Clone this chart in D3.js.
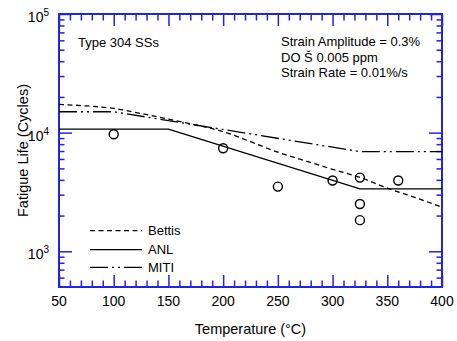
<!DOCTYPE html>
<html>
<head>
<meta charset="utf-8">
<script src="https://cdn.jsdelivr.net/npm/d3@7"></script>
<style>
body { margin: 0; background: #fff; }
text { font-family: Arial, "Liberation Sans", sans-serif; }
</style>
</head>
<body>
<svg id="chart" width="457" height="341"></svg>
<script>
// curves
var temps = [50, 75, 100, 125, 150, 175, 200, 225, 250, 275, 300, 325, 350, 375, 400];
var bettis = [17300, 16800, 16000, 14500, 13000, 11600, 10200, 8400, 6840, 5800, 4900, 4200, 3400, 2850, 2350];
var anlT = [50, 150, 325, 400];
var anl = [10700, 10700, 3360, 3360];
var mitiT = [50, 100, 325, 400];
var miti = [15000, 15000, 6920, 6920];
// test data (circles)
var ptT = [100, 200, 250, 300, 325, 325, 325, 360];
var ptN = [9700, 7380, 3510, 3950, 4180, 2506, 1830, 3950];

var xTicks = [50, 100, 150, 200, 250, 300, 350, 400];
var yTicks = [1000, 10000, 100000];
var yTickExp = ["3", "4", "5"];
var legendNames = ["Bettis", "ANL", "MITI"];

var blue = "#2323e6";
// plot box (note: "top" is taken by window.top)
var pLeft = 59, pRight = 442, pTop = 14, pBottom = 287;

var svg = d3.select("#chart");
var x = d3.scaleLinear().domain([50, 400]).range([pLeft, pRight]);
var y = d3.scaleLog().domain([500, 100000]).range([pBottom, pTop]);

var xMinor = d3.range(50, 401, 10).filter(function(d){ return d % 50 != 0; });
var yMinor = [];
[100, 1000, 10000].forEach(function(dec){
	for (var k = 2; k <= 9; k++) {
		var v = dec * k;
		if (v > 500 && v < 100000) yMinor.push(v);
	}
});

function styleAxis(g){
	g.select(".domain").remove();
	g.selectAll("line").attr("stroke", blue).attr("stroke-width", 1.5);
	g.selectAll("text").remove();
}

// ticks, all pointing inward
svg.append("g").attr("transform", "translate(0," + pBottom + ")")
	.call(d3.axisBottom(x).tickValues(xTicks).tickSize(-12)).call(styleAxis);
svg.append("g").attr("transform", "translate(0," + pBottom + ")")
	.call(d3.axisBottom(x).tickValues(xMinor).tickSize(-6.5)).call(styleAxis);
svg.append("g").attr("transform", "translate(0," + pTop + ")")
	.call(d3.axisTop(x).tickValues(xTicks).tickSize(-12)).call(styleAxis);
svg.append("g").attr("transform", "translate(0," + pTop + ")")
	.call(d3.axisTop(x).tickValues(xMinor).tickSize(-6.5)).call(styleAxis);
svg.append("g").attr("transform", "translate(" + pLeft + ",0)")
	.call(d3.axisLeft(y).tickValues(yTicks).tickSize(-13)).call(styleAxis);
svg.append("g").attr("transform", "translate(" + pLeft + ",0)")
	.call(d3.axisLeft(y).tickValues(yMinor).tickSize(-5.5)).call(styleAxis);
svg.append("g").attr("transform", "translate(" + pRight + ",0)")
	.call(d3.axisRight(y).tickValues(yTicks).tickSize(-13)).call(styleAxis);
svg.append("g").attr("transform", "translate(" + pRight + ",0)")
	.call(d3.axisRight(y).tickValues(yMinor).tickSize(-5.5)).call(styleAxis);

// frame
svg.append("rect")
	.attr("x", pLeft).attr("y", pTop)
	.attr("width", pRight - pLeft).attr("height", pBottom - pTop)
	.attr("fill", "none").attr("stroke", blue).attr("stroke-width", 2);

// tick labels
svg.selectAll(".xlab").data(xTicks).enter().append("text")
	.attr("x", function(d){ return x(d); })
	.attr("y", pBottom + 18.5)
	.attr("text-anchor", "middle")
	.attr("font-size", 14)
	.text(function(d){ return d; });

var ylab = svg.selectAll(".ylab").data(yTicks).enter().append("text")
	.attr("x", 49)
	.attr("y", function(d){ return y(d) + 8; })
	.attr("text-anchor", "end")
	.attr("font-size", 14);
ylab.append("tspan").text("10");
ylab.append("tspan").attr("font-size", 10).attr("dy", -6)
	.text(function(d, i){ return yTickExp[i]; });

// axis titles
svg.append("text")
	.attr("x", (pLeft + pRight) / 2).attr("y", 334)
	.attr("text-anchor", "middle").attr("font-size", 14.5)
	.text("Temperature (°C)");
svg.append("text")
	.attr("transform", "translate(28," + ((pTop + pBottom) / 2) + ") rotate(-90)")
	.attr("text-anchor", "middle").attr("font-size", 14.5)
	.text("Fatigue Life (Cycles)");

// curves
var line = d3.line()
	.x(function(d){ return x(d[0]); })
	.y(function(d){ return y(d[1]); });
var bettisLine = d3.line().curve(d3.curveMonotoneX)
	.x(function(d){ return x(d[0]); })
	.y(function(d){ return y(d[1]); });

var dashes = ["5,3.5", null, "18,4,2,4,2,4"];

svg.append("path").datum(d3.zip(temps, bettis))
	.attr("d", bettisLine).attr("fill", "none")
	.attr("stroke", "#000").attr("stroke-width", 1.3)
	.attr("stroke-dasharray", dashes[0]);
svg.append("path").datum(d3.zip(anlT, anl))
	.attr("d", line).attr("fill", "none")
	.attr("stroke", "#000").attr("stroke-width", 1.4);
svg.append("path").datum(d3.zip(mitiT, miti))
	.attr("d", line).attr("fill", "none")
	.attr("stroke", "#000").attr("stroke-width", 1.3)
	.attr("stroke-dasharray", dashes[2]);

// points
svg.selectAll(".pt").data(d3.zip(ptT, ptN)).enter().append("circle")
	.attr("cx", function(d){ return x(d[0]); })
	.attr("cy", function(d){ return y(d[1]); })
	.attr("r", 4.5)
	.attr("fill", "none").attr("stroke", "#000").attr("stroke-width", 1.4);

// annotations
svg.append("text").attr("x", 78).attr("y", 47).attr("font-size", 13).text("Type 304 SSs");
var notes = ["Strain Amplitude = 0.3%", "DO Š 0.005 ppm", "Strain Rate = 0.01%/s"];
svg.selectAll(".note").data(notes).enter().append("text")
	.attr("x", 281)
	.attr("y", function(d, i){ return 46 + i * 15.5; })
	.attr("font-size", 13)
	.text(function(d){ return d; });

// legend
var lg = svg.selectAll(".lg").data(legendNames).enter().append("g")
	.attr("transform", function(d, i){ return "translate(0," + [230.7, 249.7, 267.3][i] + ")"; });
lg.append("line")
	.attr("x1", 90).attr("x2", 142)
	.attr("stroke", "#000").attr("stroke-width", 1.3)
	.attr("stroke-dasharray", function(d, i){ return dashes[i]; });
lg.append("text")
	.attr("x", 148).attr("y", 4.5)
	.attr("font-size", 13)
	.text(function(d){ return d; });
</script>
</body>
</html>
